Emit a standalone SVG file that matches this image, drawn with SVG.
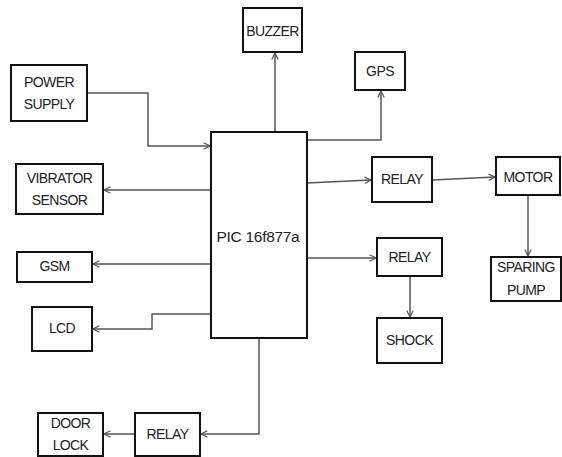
<svg xmlns="http://www.w3.org/2000/svg" width="562" height="457" viewBox="0 0 562 457">
<style>
.box{fill:#fff;stroke:#111;stroke-width:2}
.t{font-family:"Liberation Sans",Arial,sans-serif;font-size:14px;fill:#222;text-anchor:middle;dominant-baseline:central;letter-spacing:-0.6px}
.c{fill:none;stroke:#555;stroke-width:1.5}
</style>
<defs>
<marker id="a" viewBox="0 0 10 10" refX="9" refY="5" markerWidth="8" markerHeight="8" markerUnits="userSpaceOnUse" orient="auto">
<path d="M1,1 L9,5 L1,9" fill="none" stroke="#555" stroke-width="1.5"/>
</marker>
</defs>
<rect width="562" height="457" fill="#fff"/>
<g id="connectors">
<path class="c" d="M87,93 H148 V146 H210" marker-end="url(#a)"/>
<path class="c" d="M275,132 V53" marker-end="url(#a)"/>
<path class="c" d="M307,140 H381 V91" marker-end="url(#a)"/>
<path class="c" d="M211,190 H104" marker-end="url(#a)"/>
<path class="c" d="M307,183 L371,180" marker-end="url(#a)"/>
<path class="c" d="M432,180 L495,177" marker-end="url(#a)"/>
<path class="c" d="M528,195 V256" marker-end="url(#a)"/>
<path class="c" d="M211,264 H93" marker-end="url(#a)"/>
<path class="c" d="M307,258 H376" marker-end="url(#a)"/>
<path class="c" d="M410,276 V317" marker-end="url(#a)"/>
<path class="c" d="M211,314 H152 V329 H93" marker-end="url(#a)"/>
<path class="c" d="M259,338 V434 H201" marker-end="url(#a)"/>
<path class="c" d="M135,434 H104" marker-end="url(#a)"/>
</g>
<g id="pic"><rect class="box" x="211" y="132" width="96" height="206"/><text class="t" x="258" y="236" style="font-size:15.5px;letter-spacing:-0.3px">PIC 16f877a</text></g>
<g id="buzzer"><rect class="box" x="243" y="8" width="59" height="44"/><text class="t" x="272.5" y="31">BUZZER</text></g>
<g id="power"><rect class="box" x="11" y="65" width="76" height="56"/><text class="t" x="49" y="82">POWER</text><text class="t" x="49" y="104">SUPPLY</text></g>
<g id="gps"><rect class="box" x="355" y="52" width="50" height="38"/><text class="t" x="380" y="71">GPS</text></g>
<g id="vibrator"><rect class="box" x="16" y="164" width="87" height="50"/><text class="t" x="59.5" y="178">VIBRATOR</text><text class="t" x="59.5" y="200">SENSOR</text></g>
<g id="relay1"><rect class="box" x="372" y="157" width="60" height="45"/><text class="t" x="402" y="179">RELAY</text></g>
<g id="motor"><rect class="box" x="496" y="157" width="64" height="38"/><text class="t" x="528" y="177">MOTOR</text></g>
<g id="gsm"><rect class="box" x="17" y="252" width="75" height="30"/><text class="t" x="54.5" y="266">GSM</text></g>
<g id="relay2"><rect class="box" x="377" y="238" width="65" height="38"/><text class="t" x="409.5" y="257">RELAY</text></g>
<g id="sparing"><rect class="box" x="491" y="257" width="70" height="44"/><text class="t" x="526" y="267">SPARING</text><text class="t" x="526" y="290">PUMP</text></g>
<g id="lcd"><rect class="box" x="32" y="307" width="60" height="44"/><text class="t" x="62" y="328">LCD</text></g>
<g id="shock"><rect class="box" x="377" y="318" width="65" height="45"/><text class="t" x="409.5" y="340">SHOCK</text></g>
<g id="relay3"><rect class="box" x="135" y="413" width="65" height="43"/><text class="t" x="167.5" y="434">RELAY</text></g>
<g id="doorlock"><rect class="box" x="38" y="413" width="65" height="43"/><text class="t" x="70.5" y="423">DOOR</text><text class="t" x="70.5" y="445">LOCK</text></g>
</svg>
